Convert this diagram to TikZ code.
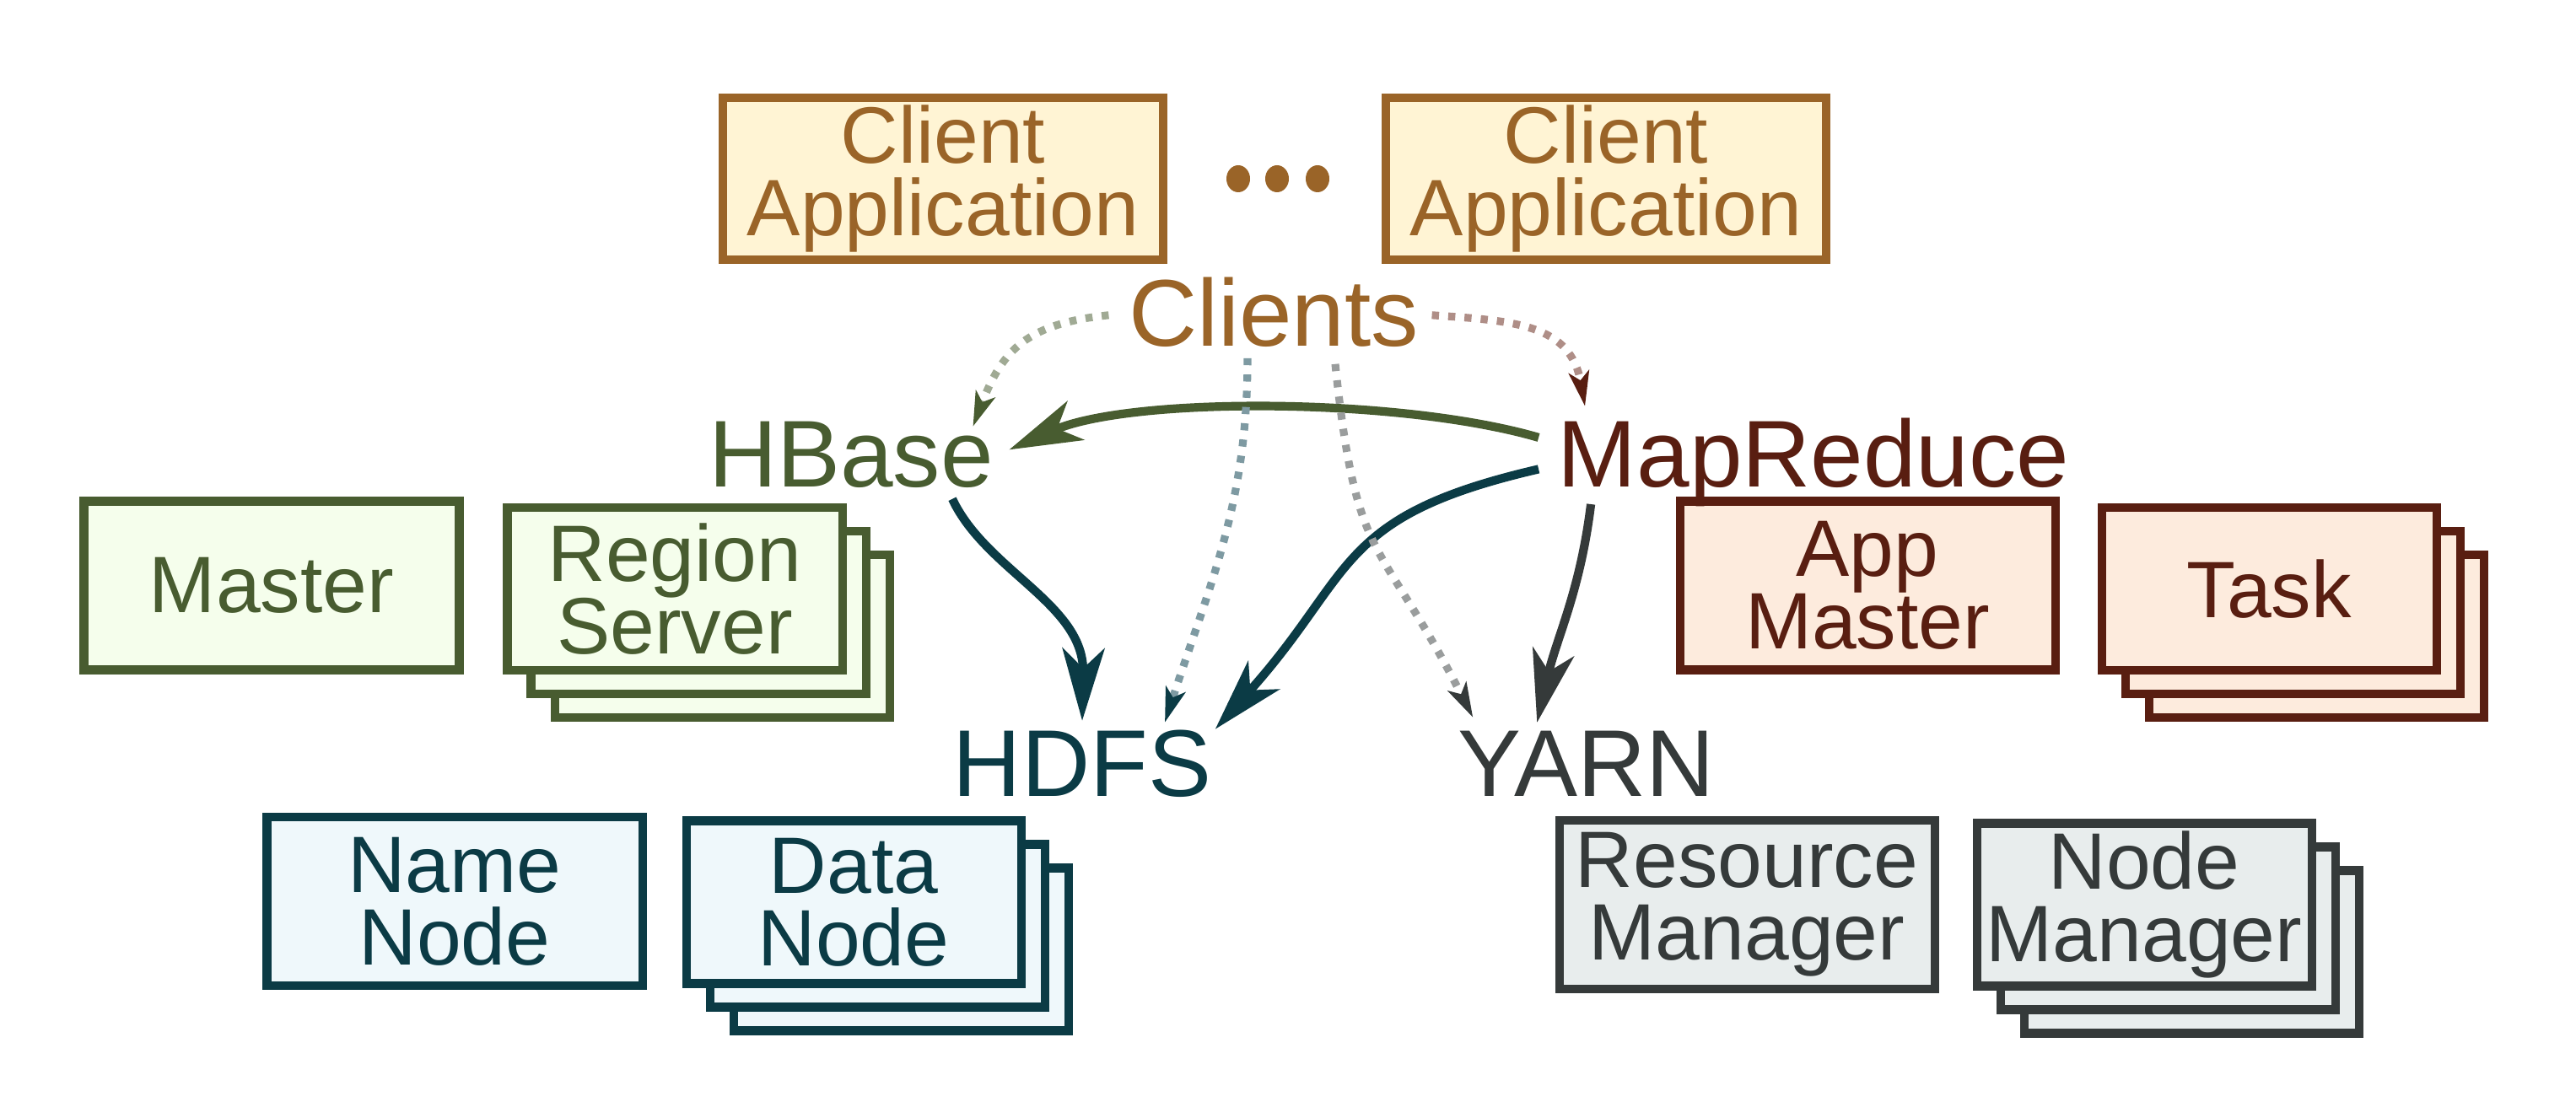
\documentclass[tikz,border=0pt]{standalone}
\usepackage{fontspec}
\setmainfont{Liberation Sans}
\usetikzlibrary{arrows.meta,shadows}

\definecolor{clientcol}{RGB}{154,100,40}
\definecolor{clientfill}{RGB}{255,244,212}
\definecolor{hbasecol}{RGB}{72,92,48}
\definecolor{hbasefill}{RGB}{245,254,236}
\definecolor{hdfscol}{RGB}{11,59,69}
\definecolor{hdfsfill}{RGB}{239,248,251}
\definecolor{mrcol}{RGB}{89,30,17}
\definecolor{mrfill}{RGB}{253,235,221}
\definecolor{yarncol}{RGB}{53,58,58}
\definecolor{yarnfill}{RGB}{232,237,237}
\definecolor{hbasepale}{RGB}{160,170,148}
\definecolor{mrpale}{RGB}{175,142,135}
\definecolor{hdfspale}{RGB}{126,154,162}
\definecolor{yarnpale}{RGB}{154,157,157}

\tikzset{box/.style 2 args = {draw=#1, fill=#2, text=#1, line width=2.85pt,
                              font=\fontsize{27pt}{24.5pt}\selectfont,
                              align=center, inner sep=0pt},
         wide/.style   = {minimum width=4.45cm, minimum height=2cm},
         narrow/.style = {minimum width=3.97cm, minimum height=1.93cm},
         capp/.style   = {minimum width=5.22cm, minimum height=1.92cm},
         stack/.style 2 args = {copy shadow={shadow xshift=5.6mm, shadow yshift=-5.6mm,
                                             draw=#1, fill=#2, line width=2.85pt},
                                copy shadow={shadow xshift=2.8mm, shadow yshift=-2.8mm,
                                             draw=#1, fill=#2, line width=2.85pt}},
         layer/.style  = {text=#1, font=\fontsize{32pt}{36pt}\selectfont,
                          inner sep=0pt, anchor=base},
         link/.style   = {draw=#1, line width=2.9pt,
                          -{Stealth[length=8.6mm, width=5mm, inset=2.4mm]}},
         query/.style 2 args = {draw=#1, line width=2.6pt, dash pattern=on 2.4pt off 3.1pt,
                                -{Stealth[length=4.1mm, width=2.4mm, inset=1mm, color=#2]}}
        }

\begin{document}
\begin{tikzpicture}
  \useasboundingbox (0,0) rectangle (30.54,-13.26);

  % clients
  \node[box={clientcol}{clientfill}, capp] (app1) at (11.18,-2.12) {Client\\Application};
  \node[box={clientcol}{clientfill}, capp] (app2) at (19.04,-2.12) {Client\\Application};
  \foreach \x in {14.68,15.14,15.62}
    \fill[clientcol] (\x,-2.12) ellipse (0.14 and 0.16);

  % boxes
  \node[box={hbasecol}{hbasefill}, wide] (master) at (3.22,-6.945) {Master};
  \node[box={hbasecol}{hbasefill}, narrow, stack={hbasecol}{hbasefill}] (region) at (8.00,-6.985) {Region\\Server};
  \node[box={mrcol}{mrfill}, wide] (appmaster) at (22.14,-6.945) {App\\Master};
  \node[box={mrcol}{mrfill}, narrow, stack={mrcol}{mrfill}] (task) at (26.90,-6.985) {Task};
  \node[box={hdfscol}{hdfsfill}, wide] (namenode) at (5.39,-10.69) {Name\\Node};
  \node[box={hdfscol}{hdfsfill}, narrow, stack={hdfscol}{hdfsfill}] (datanode) at (10.12,-10.70) {Data\\Node};
  \node[box={yarncol}{yarnfill}, wide] (resmgr) at (20.71,-10.73) {Resource\\Manager};
  \node[box={yarncol}{yarnfill}, narrow, stack={yarncol}{yarnfill}] (nodemgr) at (25.42,-10.73) {Node\\Manager};

  % layer names
  \node[layer=clientcol] (clients) at (15.10,-4.11) {Clients};
  \node[layer=hbasecol]  (hbase)   at (10.09,-5.78) {HBase};
  \node[layer=mrcol]     (mapred)  at (21.50,-5.78) {MapReduce};
  \node[layer=hdfscol]   (hdfs)    at (12.83,-9.45) {HDFS};
  \node[layer=yarncol]   (yarn)    at (18.81,-9.45) {YARN};

  % dependencies
  \draw[link=hbasecol] ([shift={(-0.22,0.30)}]mapred.west) .. controls +(-1.65,0.48) and +(1.44,0.63) ..
        ([shift={(0.18,0.065)}]hbase.east);
  \draw[link=hdfscol] ([shift={(1.2,-0.12)}]hbase.south) .. controls +(0.4,-0.85) and +(0.025,1.38) ..
        ([yshift=1.1mm]hdfs.north);
  \draw[link=hdfscol] ([shift={(-0.22,-0.075)}]mapred.west) to[out=193, in=48, looseness=1.3]
        ([shift={(0.04,0.01)}]hdfs.north east);
  \draw[link=yarncol] ([shift={(0.4,0.04)}]mapred.south west) to[out=-97, in=77]
        ([shift={(0.94,0.1)}]yarn.north west);

  % client access
  \draw[query={hbasepale}{hbasecol}] ([shift={(-0.23,-0.03)}]clients.west) to[out=186, in=69, looseness=1.2]
        ([shift={(-0.25,-0.06)}]hbase.north east);
  \draw[query={mrpale}{mrcol}] ([shift={(0.15,-0.03)}]clients.east) to[out=-4, in=100, looseness=1.2]
        ([shift={(0.33,0.14)}]mapred.north west);
  \draw[query={hdfspale}{hdfscol}] ([shift={(-0.31,-0.12)}]clients.south) to[out=-90, in=72]
        ([shift={(0.98,0.09)}]hdfs.north);
  \draw[query={yarnpale}{yarncol}] ([shift={(0.73,-0.19)}]clients.south) to[out=-84, in=117, looseness=1.4]
        ([shift={(0.18,0.16)}]yarn.north west);
\end{tikzpicture}
\end{document}
